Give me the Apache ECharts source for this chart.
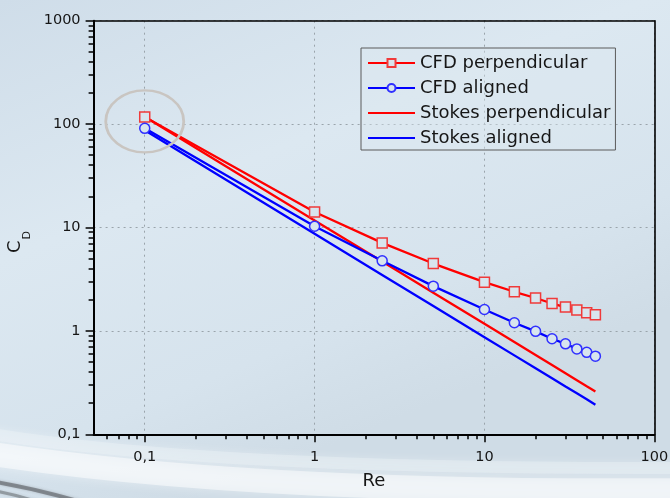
<!DOCTYPE html>
<html>
<head>
<meta charset="utf-8">
<script src="https://cdn.jsdelivr.net/npm/echarts@6/dist/echarts.min.js"></script>
<style>
html,body{margin:0;padding:0;background:#d6e3ed;}
#chart{width:670px;height:498px;}
</style>
</head>
<body>
<div id="chart"></div>
<script>
// ---- data ----
var re = [0.1, 1, 2.5, 5, 10, 15, 20, 25, 30, 35, 40, 45];
var cfdPerpendicular = [117, 14.1, 7.1, 4.48, 2.96, 2.39, 2.08, 1.84, 1.70, 1.59, 1.50, 1.43];
var cfdAligned = [91, 10.3, 4.76, 2.71, 1.61, 1.20, 0.99, 0.84, 0.75, 0.67, 0.62, 0.57];
var stokesPerpendicular = [118, 11.7, 4.68, 2.34, 1.17, 0.78, 0.585, 0.468, 0.39, 0.334, 0.292, 0.26];
var stokesAligned = [87, 8.7, 3.48, 1.74, 0.87, 0.58, 0.435, 0.348, 0.29, 0.249, 0.218, 0.193];
var seriesNames = ['CFD perpendicular', 'CFD aligned', 'Stokes perpendicular', 'Stokes aligned'];
var xTickLabels = [0.1, 1, 10, 100];
var yTickLabels = [0.1, 1, 10, 100, 1000];
var xMin = 0.05, xMax = 100, yMin = 0.1, yMax = 1000;
var highlightCenter = [0.1, 106];

function minorTicks(lo, hi) {
  var out = [];
  for (var e = -3; e <= 3; e++) {
    for (var m = 2; m <= 9; m++) {
      var v = +(m * Math.pow(10, e)).toPrecision(6);
      if (v > lo && v < hi) out.push(v);
    }
  }
  return out;
}
function pairs(xs, ys) { return xs.map(function (x, i) { return [x, ys[i]]; }); }
function fmt(v) { return String(v).replace('.', ','); }

var FONT = 'DejaVu Sans';
var TXT = '#161616';
function frameAxis(pos, min, max) {
  return {
    type: 'log', logBase: 10, min: min, max: max, position: pos,
    axisLine: {show: true, onZero: false, lineStyle: {color: '#000', width: 1.6}},
    axisTick: {show: false}, axisLabel: {show: false}, splitLine: {show: false}
  };
}
function minorAxis(pos, min, max) {
  return {
    type: 'log', logBase: 10, min: min, max: max, position: pos,
    axisLine: {show: false},
    axisTick: {show: true, inside: false, length: 5, customValues: minorTicks(min, max), lineStyle: {color: '#000', width: 1.5}},
    axisLabel: {show: false}, splitLine: {show: false}
  };
}

var chart = echarts.init(document.getElementById('chart'), null, {renderer: 'canvas'});
chart.setOption({
  animation: false,
  backgroundColor: {
    type: 'linear', x: 0, y: 0, x2: 0.3, y2: 1,
    colorStops: [
      {offset: 0, color: '#cfdde9'},
      {offset: 0.45, color: '#dce8f1'},
      {offset: 0.8, color: '#d6e3ed'},
      {offset: 1, color: '#cfdce6'}
    ]
  },
  graphic: [
    {type: 'bezierCurve', silent: true, z: -10,
     shape: {x1: -20, y1: 452, cpx1: 250, cpy1: 494, x2: 690, y2: 490},
     style: {fill: 'none', stroke: 'rgba(255,255,255,0.5)', lineWidth: 24, shadowBlur: 12, shadowColor: 'rgba(255,255,255,0.8)'}},
    {type: 'bezierCurve', silent: true, z: -10,
     shape: {x1: -20, y1: 432, cpx1: 200, cpy1: 470, x2: 690, y2: 468},
     style: {fill: 'none', stroke: 'rgba(240,246,250,0.35)', lineWidth: 12, shadowBlur: 10, shadowColor: 'rgba(255,255,255,0.7)'}},
    {type: 'bezierCurve', silent: true, z: -9,
     shape: {x1: -10, y1: 481, cpx1: 45, cpy1: 490, x2: 100, y2: 508},
     style: {fill: 'none', stroke: 'rgba(70,72,76,0.5)', lineWidth: 4, shadowBlur: 3, shadowColor: 'rgba(70,72,76,0.5)'}},
    {type: 'bezierCurve', silent: true, z: -9,
     shape: {x1: -10, y1: 490, cpx1: 25, cpy1: 496, x2: 60, y2: 510},
     style: {fill: 'none', stroke: 'rgba(70,72,76,0.4)', lineWidth: 3, shadowBlur: 3, shadowColor: 'rgba(70,72,76,0.4)'}}
  ],
  grid: {
    left: 93.6, right: 15.7, top: 20.7, bottom: 63.7,
    outerBoundsMode: 'none', containLabel: false,
    show: false
  },
  legend: {
    orient: 'vertical',
    left: 361, top: 48,
    data: seriesNames,
    itemWidth: 47, itemHeight: 10, itemGap: 7,
    padding: [6, 5, 3, 6],
    borderColor: '#5a5a5a', borderWidth: 1,
    backgroundColor: 'rgba(220,232,241,0.4)',
    textStyle: {fontFamily: FONT, fontSize: 18, color: TXT}
  },
  xAxis: [{
    type: 'log', logBase: 10, min: xMin, max: xMax,
    position: 'bottom',
    name: 'Re', nameLocation: 'middle', nameGap: 38,
    nameTextStyle: {fontFamily: FONT, fontSize: 18, color: TXT},
    axisLine: {show: true, onZero: false, lineStyle: {color: '#000', width: 2}},
    axisTick: {show: true, inside: false, length: 8, customValues: xTickLabels, lineStyle: {color: '#000', width: 1.5}},
    axisLabel: {customValues: xTickLabels, formatter: fmt, fontFamily: FONT, fontSize: 14.5, color: TXT, margin: 15},
    splitLine: {show: true, lineStyle: {color: '#9aa4ab', type: [2, 4], width: 1}}
  },
    minorAxis('bottom', xMin, xMax),
    frameAxis('top', xMin, xMax)
  ],
  yAxis: [{
    type: 'log', logBase: 10, min: yMin, max: yMax,
    position: 'left',
    name: '{c|C}{d|D}', nameLocation: 'middle', nameGap: 58, nameRotate: 90,
    nameTextStyle: {
      fontFamily: FONT, color: TXT, padding: [0, 29, 0, 0],
      rich: {
        c: {fontFamily: FONT, fontSize: 18, color: TXT, lineHeight: 26, verticalAlign: 'top'},
        d: {fontFamily: FONT, fontSize: 11, color: TXT, lineHeight: 12, verticalAlign: 'bottom', padding: [0, 0, 0, 1]}
      }
    },
    axisLine: {show: true, onZero: false, lineStyle: {color: '#000', width: 2}},
    axisTick: {show: true, inside: false, length: 8, customValues: yTickLabels, lineStyle: {color: '#000', width: 1.5}},
    axisLabel: {customValues: yTickLabels, formatter: fmt, fontFamily: FONT, fontSize: 14.5, color: TXT, margin: 13},
    splitLine: {show: true, lineStyle: {color: '#9aa4ab', type: [2, 4], width: 1}}
  },
    minorAxis('left', yMin, yMax),
    frameAxis('right', yMin, yMax)
  ],
  series: [
    {
      name: seriesNames[2], type: 'line', xAxisIndex: 0, yAxisIndex: 0,
      data: pairs(re, stokesPerpendicular), symbol: 'circle', showSymbol: false, z: 2,
      emphasis: {disabled: true},
      lineStyle: {color: '#ff0000', width: 2.3}, itemStyle: {color: 'rgba(0,0,0,0)', borderWidth: 0}
    },
    {
      name: seriesNames[3], type: 'line', xAxisIndex: 0, yAxisIndex: 0,
      data: pairs(re, stokesAligned), symbol: 'circle', showSymbol: false, z: 2,
      emphasis: {disabled: true},
      lineStyle: {color: '#0000ff', width: 2.3}, itemStyle: {color: 'rgba(0,0,0,0)', borderWidth: 0}
    },
    {
      name: seriesNames[0], type: 'line', xAxisIndex: 0, yAxisIndex: 0,
      data: pairs(re, cfdPerpendicular), symbol: 'rect', symbolSize: 10, showAllSymbol: true, z: 3,
      lineStyle: {color: '#ff0000', width: 2.3},
      itemStyle: {color: '#d8e5ee', borderColor: '#f03a3a', borderWidth: 1.5},
      markPoint: {
        silent: true,
        symbol: 'circle', symbolSize: [78, 62],
        label: {show: false},
        itemStyle: {color: 'rgba(0,0,0,0)', borderColor: '#c9c5c1', borderWidth: 2.5},
        data: [{coord: highlightCenter}]
      }
    },
    {
      name: seriesNames[1], type: 'line', xAxisIndex: 0, yAxisIndex: 0,
      data: pairs(re, cfdAligned), symbol: 'circle', symbolSize: 10, showAllSymbol: true, z: 3,
      lineStyle: {color: '#0000ff', width: 2.3},
      itemStyle: {color: '#d8e5ee', borderColor: '#3030ff', borderWidth: 1.5}
    }
  ]
});
</script>
</body>
</html>
